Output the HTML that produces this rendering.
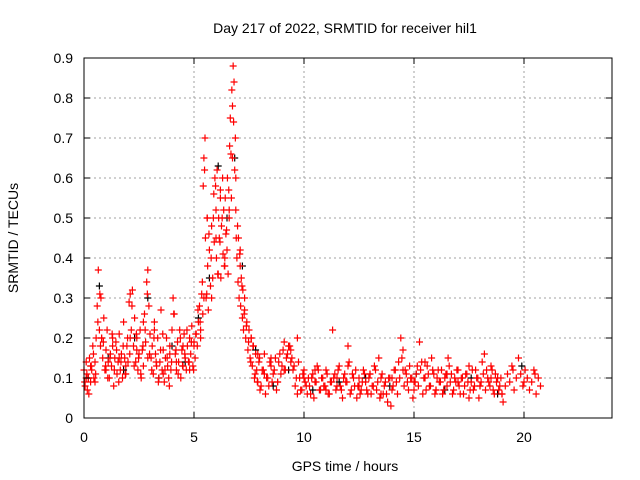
<!DOCTYPE html>
<html><head><meta charset="utf-8">
<style>
html,body{margin:0;padding:0;background:#fff;}
svg{display:block;font-family:"Liberation Sans",sans-serif;}
</style></head>
<body>
<svg id="chart" width="640" height="480" viewBox="0 0 640 480" xmlns="http://www.w3.org/2000/svg">
<rect width="640" height="480" fill="#fff"/>
<g id="grid"></g>
<g id="black"></g>
<g id="red"></g>
<g id="axes"></g>
<text x="345" y="33" font-size="14" text-anchor="middle">Day 217 of 2022, SRMTID for receiver hil1</text>
<text x="345" y="471" font-size="14" text-anchor="middle">GPS time / hours</text>
<text transform="translate(18,238) rotate(-90)" font-size="14" text-anchor="middle">SRMTID / TECUs</text>
</svg>
<script>
const xTicks=[0,5,10,15,20];
const yTicks=[0,0.1,0.2,0.3,0.4,0.5,0.6,0.7,0.8,0.9];
const yTickLabels=["0","0.1","0.2","0.3","0.4","0.5","0.6","0.7","0.8","0.9"];
const redHours=[0.0,0.05,0.1,0.15,0.2,0.25,0.3,0.35,0.4,0.45,0.5,0.55,0.6,0.65,0.7,0.72,0.75,0.8,0.85,0.9,0.95,1.0,1.05,1.1,1.15,1.2,1.25,1.3,1.35,1.4,1.45,1.5,1.55,1.6,1.65,1.7,1.75,1.8,1.85,1.9,1.95,2.0,2.05,2.1,2.15,2.2,2.25,2.3,2.35,2.4,2.45,2.5,2.55,2.6,2.65,2.7,2.75,2.8,2.85,2.9,2.95,3.0,3.05,3.1,3.15,3.2,3.25,3.3,3.35,3.4,3.45,3.5,3.55,3.6,3.65,3.7,3.75,3.8,3.85,3.9,3.95,4.0,4.05,4.1,4.15,4.2,4.25,4.3,4.35,4.4,4.45,4.5,4.55,4.6,4.65,4.7,4.75,4.8,4.85,4.9,4.95,5.0,5.05,5.1,5.15,5.2,5.25,5.3,5.35,5.4,5.42,5.45,5.5,5.52,5.55,5.6,5.62,5.65,5.7,5.75,5.8,5.85,5.9,5.92,5.95,6.0,6.02,6.05,6.1,6.12,6.15,6.2,6.22,6.25,6.3,6.32,6.35,6.4,6.42,6.45,6.5,6.52,6.55,6.6,6.62,6.65,6.7,6.72,6.75,6.78,6.8,6.82,6.85,6.88,6.9,6.92,6.95,7.0,7.02,7.05,7.1,7.12,7.15,7.2,7.22,7.25,7.3,7.35,7.4,7.45,7.5,7.55,7.6,7.65,7.7,7.75,7.8,7.85,7.9,7.95,8.0,8.1,8.2,8.3,8.4,8.5,8.6,8.7,8.8,8.9,9.0,9.1,9.2,9.3,9.4,9.5,9.6,9.7,9.8,9.9,10.0,10.1,10.2,10.3,10.4,10.5,10.6,10.7,10.8,10.9,11.0,11.1,11.2,11.3,11.4,11.5,11.6,11.7,11.8,11.9,12.0,12.1,12.2,12.3,12.4,12.5,12.6,12.7,12.8,12.9,13.0,13.1,13.2,13.3,13.4,13.5,13.6,13.7,13.8,13.9,14.0,14.1,14.2,14.3,14.4,14.5,14.6,14.7,14.8,14.9,15.0,15.1,15.2,15.3,15.4,15.5,15.6,15.7,15.8,15.9,16.0,16.1,16.2,16.3,16.4,16.5,16.6,16.7,16.8,16.9,17.0,17.1,17.2,17.3,17.4,17.5,17.6,17.7,17.8,17.9,18.0,18.1,18.2,18.3,18.4,18.5,18.6,18.7,18.8,18.9,19.0,19.1,19.2,19.3,19.4,19.5,19.6,19.7,19.8,19.9,20.0,20.1,20.2,20.3,20.4,20.5,20.6,20.7];
const redValues=[0.12,0.08,0.14,0.07,0.1,0.15,0.09,0.12,0.18,0.1,0.14,0.2,0.28,0.37,0.22,0.31,0.18,0.2,0.15,0.25,0.12,0.17,0.22,0.14,0.1,0.16,0.13,0.2,0.08,0.15,0.19,0.11,0.14,0.21,0.12,0.16,0.1,0.24,0.15,0.13,0.18,0.14,0.29,0.31,0.22,0.32,0.18,0.25,0.14,0.2,0.12,0.16,0.22,0.1,0.17,0.13,0.26,0.19,0.34,0.37,0.28,0.21,0.15,0.18,0.11,0.24,0.16,0.13,0.2,0.1,0.14,0.27,0.12,0.17,0.09,0.15,0.2,0.13,0.1,0.18,0.12,0.22,0.3,0.26,0.16,0.12,0.19,0.14,0.22,0.1,0.17,0.13,0.21,0.15,0.12,0.18,0.14,0.2,0.16,0.23,0.13,0.19,0.15,0.21,0.18,0.24,0.28,0.2,0.31,0.26,0.58,0.65,0.7,0.45,0.3,0.5,0.38,0.27,0.42,0.33,0.48,0.35,0.56,0.44,0.6,0.52,0.4,0.62,0.36,0.5,0.45,0.57,0.35,0.48,0.6,0.41,0.52,0.38,0.55,0.46,0.42,0.6,0.36,0.5,0.68,0.75,0.55,0.82,0.65,0.88,0.74,0.84,0.62,0.7,0.52,0.45,0.4,0.34,0.45,0.3,0.38,0.28,0.35,0.25,0.32,0.22,0.27,0.2,0.24,0.17,0.22,0.15,0.2,0.13,0.18,0.1,0.16,0.12,0.09,0.14,0.07,0.12,0.16,0.1,0.08,0.13,0.11,0.15,0.09,0.16,0.13,0.19,0.15,0.18,0.14,0.12,0.08,0.06,0.1,0.07,0.12,0.08,0.1,0.06,0.11,0.09,0.13,0.07,0.1,0.08,0.12,0.06,0.09,0.22,0.11,0.08,0.13,0.07,0.1,0.09,0.18,0.06,0.11,0.08,0.05,0.1,0.07,0.12,0.09,0.06,0.11,0.08,0.13,0.07,0.15,0.1,0.06,0.09,0.04,0.1,0.07,0.12,0.09,0.14,0.2,0.17,0.12,0.09,0.13,0.1,0.07,0.11,0.08,0.12,0.06,0.1,0.13,0.08,0.15,0.11,0.07,0.12,0.09,0.06,0.1,0.08,0.13,0.11,0.07,0.09,0.12,0.06,0.1,0.08,0.11,0.05,0.09,0.07,0.12,0.1,0.08,0.14,0.16,0.12,0.09,0.13,0.07,0.11,0.1,0.08,0.06];
const redHours2=[0.1,0.3,0.5,0.8,1.0,1.3,1.6,1.9,2.1,2.4,2.7,2.9,3.2,3.6,3.9,4.2,4.5,4.8,5.0,5.3,5.45,5.6,5.8,6.0,6.2,6.4,6.6,6.75,6.9,7.1,7.3,7.6,7.9,8.2,8.5,8.8,9.1,9.4,9.7,10.0,10.5,11.0,11.5,12.0,12.5,13.0,13.5,14.0,14.5,15.0,15.5,16.0,16.5,17.0,17.5,18.0,18.5,19.0,19.5,20.0,20.5];
const redValues2=[0.1,0.13,0.09,0.2,0.12,0.18,0.15,0.11,0.2,0.17,0.24,0.15,0.22,0.11,0.16,0.14,0.18,0.12,0.18,0.22,0.3,0.5,0.3,0.45,0.55,0.4,0.52,0.78,0.6,0.42,0.3,0.2,0.16,0.11,0.15,0.09,0.12,0.17,0.2,0.1,0.12,0.07,0.1,0.13,0.08,0.11,0.06,0.1,0.12,0.09,0.14,0.07,0.11,0.09,0.13,0.08,0.1,0.06,0.12,0.09,0.11];
const redHours3=[0.03,0.13,0.22,0.33,0.43,0.53,0.63,0.77,0.88,0.98,1.08,1.18,1.28,1.38,1.48,1.58,1.68,1.78,1.88,1.98,2.08,2.18,2.28,2.38,2.48,2.58,2.68,2.78,2.88,2.98,3.08,3.18,3.28,3.38,3.48,3.58,3.68,3.78,3.88,3.98,4.08,4.18,4.28,4.38,4.48,4.58,4.68,4.78,4.88,4.98,5.08,5.18,5.28,5.38,5.48,5.58,5.68,5.78,5.88,5.98,6.08,6.18,6.28,6.38,6.48,6.58,6.68,6.98,7.08,7.18,7.28,7.38,7.48,7.58,7.68,7.78,7.88,7.98,8.05,8.15,8.25,8.35,8.45,8.55,8.65,8.75,8.85,8.95,9.05,9.15,9.25,9.35,9.45,9.55,9.65,9.75,9.85,9.95,10.05,10.15,10.25,10.35,10.45,10.55,10.65,10.75,10.85,10.95,11.05,11.15,11.25,11.35,11.45,11.55,11.65,11.75,11.85,11.95,12.05,12.15,12.25,12.35,12.45,12.55,12.65,12.75,12.85,12.95,13.05,13.15,13.25,13.35,13.45,13.55,13.65,13.75,13.85,13.95,14.05,14.15,14.25,14.35,14.45,14.55,14.65,14.75,14.85,14.95,15.05,15.15,15.25,15.35,15.45,15.55,15.65,15.75,15.85,15.95,16.05,16.15,16.25,16.35,16.45,16.55,16.65,16.75,16.85,16.95,17.05,17.15,17.25,17.35,17.45,17.55,17.65,17.75,17.85,17.95,18.05,18.15,18.25,18.35,18.45,18.55,18.65,18.75,18.85,18.95,19.05,19.15,19.25,19.35,19.45,19.55,19.65,19.75,19.85,19.95,20.05,20.15,20.25,20.35,20.45,20.55,20.65,20.75];
const redValues3=[0.09,0.11,0.06,0.13,0.16,0.11,0.24,0.3,0.19,0.13,0.1,0.15,0.21,0.12,0.17,0.09,0.14,0.18,0.11,0.2,0.16,0.28,0.13,0.21,0.15,0.11,0.18,0.22,0.31,0.16,0.12,0.2,0.14,0.09,0.17,0.21,0.12,0.15,0.08,0.14,0.26,0.17,0.11,0.2,0.13,0.16,0.22,0.14,0.19,0.12,0.21,0.27,0.24,0.34,0.62,0.31,0.46,0.4,0.5,0.58,0.36,0.44,0.5,0.38,0.47,0.57,0.66,0.48,0.41,0.33,0.26,0.23,0.19,0.14,0.18,0.11,0.09,0.15,0.08,0.12,0.06,0.1,0.14,0.09,0.12,0.07,0.14,0.11,0.17,0.12,0.16,0.18,0.15,0.13,0.1,0.14,0.07,0.11,0.09,0.06,0.08,0.1,0.05,0.09,0.12,0.07,0.1,0.08,0.11,0.06,0.09,0.1,0.07,0.12,0.08,0.05,0.11,0.09,0.14,0.07,0.1,0.12,0.08,0.06,0.09,0.11,0.07,0.1,0.06,0.08,0.12,0.09,0.05,0.11,0.08,0.06,0.1,0.03,0.08,0.12,0.06,0.1,0.15,0.08,0.11,0.07,0.1,0.05,0.09,0.13,0.19,0.14,0.1,0.07,0.11,0.08,0.12,0.06,0.1,0.09,0.12,0.07,0.11,0.15,0.09,0.06,0.1,0.12,0.08,0.1,0.06,0.11,0.09,0.07,0.12,0.08,0.1,0.05,0.09,0.11,0.07,0.1,0.08,0.12,0.06,0.09,0.07,0.1,0.04,0.08,0.11,0.09,0.13,0.07,0.1,0.15,0.11,0.08,0.12,0.1,0.07,0.09,0.12,0.06,0.1,0.08,0.09];
const blackHours=[0.2,0.7,1.1,1.8,2.3,2.9,3.4,4.0,4.6,5.2,5.7,6.1,6.5,6.85,7.2,7.8,8.6,9.3,10.4,11.6,12.8,13.9,15.1,16.4,17.6,18.8,19.9];
const blackValues=[0.1,0.33,0.15,0.12,0.2,0.3,0.1,0.18,0.14,0.25,0.35,0.63,0.5,0.65,0.38,0.17,0.08,0.12,0.07,0.09,0.1,0.08,0.11,0.07,0.1,0.06,0.13];
const X0=84,X1=612,Y0=418,Y1=58,XMAX=24,YMAX=0.9;
function sx(v){return X0+(X1-X0)*v/XMAX;}
function sy(v){return Y0-(Y0-Y1)*v/YMAX;}
const NS="http://www.w3.org/2000/svg";
function mk(tag,attrs,parent){const e=document.createElementNS(NS,tag);for(const k in attrs)e.setAttribute(k,attrs[k]);parent.appendChild(e);return e;}
const grid=document.getElementById('grid'),axes=document.getElementById('axes');
yTicks.forEach((t,i)=>{
  if(t>0&&t<YMAX){const l=mk('line',{x1:X0,x2:X1,y1:sy(t),y2:sy(t),stroke:'#a0a0a0','stroke-dasharray':'2,3'},grid);
  
  }
  mk('line',{x1:X0,x2:X0+6,y1:sy(t),y2:sy(t),stroke:'#000'},axes);
  mk('line',{x1:X1,x2:X1-6,y1:sy(t),y2:sy(t),stroke:'#000'},axes);
  const tx=mk('text',{x:X0-11,y:sy(t)+5,'font-size':14,'text-anchor':'end'},axes);
  tx.textContent=yTickLabels[i];
  
  
});
xTicks.forEach(t=>{
  if(t>0){const l=mk('line',{x1:sx(t),x2:sx(t),y1:Y0,y2:Y1,stroke:'#a0a0a0','stroke-dasharray':'2,3'},grid);
  
  }
  mk('line',{x1:sx(t),x2:sx(t),y1:Y0,y2:Y0-6,stroke:'#000'},axes);
  mk('line',{x1:sx(t),x2:sx(t),y1:Y1,y2:Y1+6,stroke:'#000'},axes);
  const tx=mk('text',{x:sx(t),y:Y0+24,'font-size':14,'text-anchor':'middle'},axes);
  tx.textContent=String(t);
  
  
});
const fr=mk('rect',{x:X0,y:Y1,width:X1-X0,height:Y0-Y1,fill:'none',stroke:'#000'},axes);


function plus(g,h,v,c){
  const x=sx(h),y=sy(v);
  const p=mk('path',{d:`M${x-3.5} ${y}H${x+3.5}M${x} ${y-3.5}V${y+3.5}`,stroke:c,'stroke-width':1.2,fill:'none'},g);
  
  
}
const bg=document.getElementById('black'),rg=document.getElementById('red');
blackHours.forEach((h,i)=>plus(bg,h,blackValues[i],'#000'));
redHours.forEach((h,i)=>plus(rg,h,redValues[i],'#f00'));
redHours2.forEach((h,i)=>plus(rg,h,redValues2[i],'#f00'));
redHours3.forEach((h,i)=>plus(rg,h,redValues3[i],'#f00'));
</script>
</body></html>
